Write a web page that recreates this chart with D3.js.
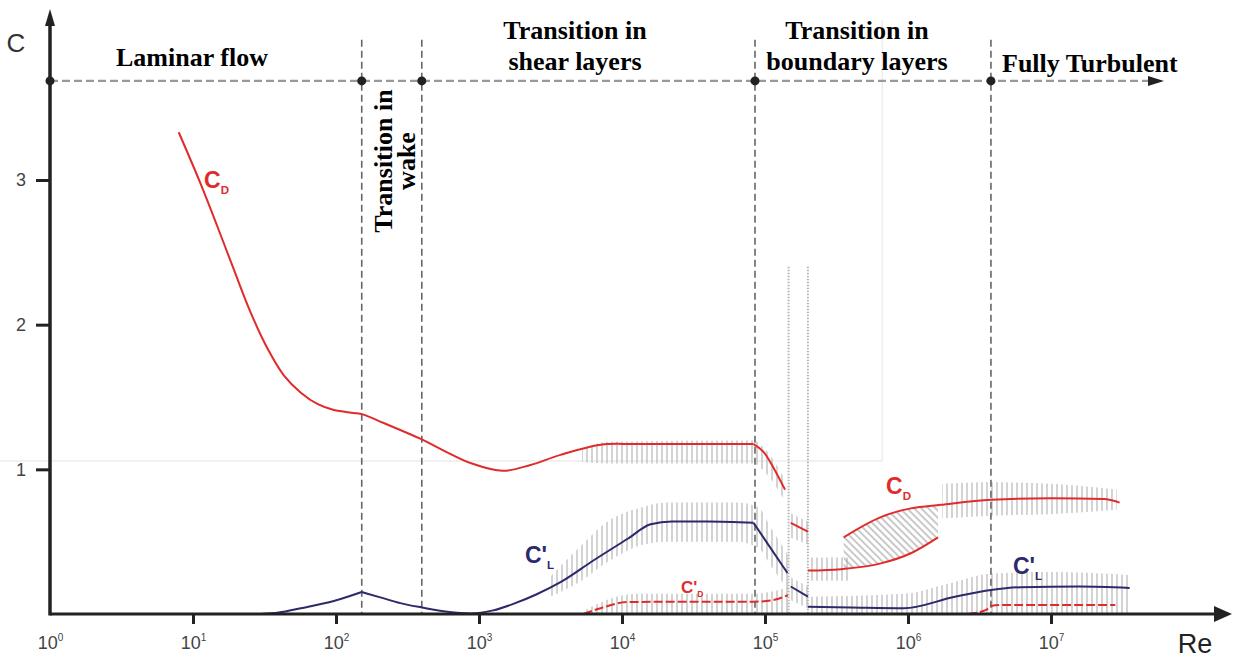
<!DOCTYPE html>
<html>
<head>
<meta charset="utf-8">
<script src="https://cdn.jsdelivr.net/npm/d3@7"></script>
<style>
  body { margin: 0; background: #fff; }
  svg { display: block; }
</style>
</head>
<body>
<svg id="chart" width="1233" height="658"></svg>
<script>
// Re is stored as log10(Re), coefficients as C
// mean drag coefficient C_D
var cdMain = [[0.90,3.33],[1.055,2.97],[1.174,2.67],[1.286,2.38],[1.405,2.08],[1.524,1.83],[1.635,1.65],
  [1.754,1.53],[1.873,1.45],[1.985,1.41],[2.124,1.39],[2.187,1.38],[2.334,1.32],[2.593,1.21],[2.753,1.13],
  [2.95,1.04],[3.166,0.99],[3.36,1.03],[3.57,1.10],[3.85,1.17],[4.1,1.175],[4.92,1.175]];
var cdDrop = [[4.92,1.175],[4.99,1.12],[5.06,1.01],[5.14,0.86]];
var cdCritical = [[5.18,0.63],[5.30,0.57]];
var cdLower = [[5.30,0.30],[5.53,0.31],[5.81,0.35],[6.02,0.42],[6.21,0.53]];
var cdUpper = [[5.55,0.53],[5.81,0.67],[6.02,0.73],[6.23,0.755],[6.58,0.79],[7.0,0.80],[7.37,0.795],[7.48,0.77]];

// fluctuating lift C'_L
var clRise = [[1.474,0],[1.60,0.01],[1.754,0.04],[1.985,0.09],[2.18,0.152]];
var clMid = [[2.18,0.152],[2.31,0.115],[2.45,0.075],[2.60,0.045],[2.78,0.015],[2.94,0.004],[3.10,0.025],
  [3.24,0.07],[3.40,0.135],[3.57,0.22],[3.80,0.37],[4.04,0.52],[4.20,0.62],[4.35,0.64],[4.6,0.64],[4.92,0.63]];
var clDrop = [[4.92,0.63],[5.157,0.283]];
var clCritical = [[5.18,0.19],[5.30,0.12]];
var clSuper = [[5.30,0.05],[5.6,0.045],[5.97,0.04],[6.32,0.117],[6.58,0.166],[6.79,0.185],[7.2,0.19],[7.55,0.18]];

// fluctuating drag C'_D
var cdpSub = [[3.73,0],[3.85,0.04],[4.04,0.083],[4.5,0.085],[4.92,0.085],[5.05,0.095],[5.16,0.13]];
var cdpSuper = [[6.42,0],[6.55,0.03],[6.58,0.055],[6.65,0.062],[7.45,0.062]];

// scatter bands [log10 Re, low, high]
var bandCd = [[3.72,1.05,1.14],[3.9,1.04,1.19],[4.92,1.04,1.20],[5.0,0.98,1.14],[5.14,0.78,0.93]];
var bandCl = [[3.50,0.12,0.26],[3.70,0.22,0.46],[3.90,0.36,0.64],[4.15,0.48,0.74],[4.30,0.50,0.77],
  [4.80,0.50,0.77],[4.95,0.46,0.74],[5.05,0.32,0.58],[5.18,0.14,0.38]];
var bandCdp = [[3.73,0,0.02],[3.9,0,0.10],[4.1,0,0.14],[4.92,0,0.14],[5.18,0,0.19]];
var bandCdCrit = [[5.17,0.53,0.70],[5.30,0.48,0.64]];
var bandClCrit = [[5.17,0.10,0.26],[5.30,0.04,0.19]];
var bandCdLow = [[5.30,0.23,0.39],[5.60,0.23,0.39]];
var bandCdSuper = [[6.24,0.66,0.90],[6.58,0.68,0.91],[7.0,0.69,0.90],[7.46,0.72,0.86]];
var bandClSuper = [[5.30,0,0.12],[5.97,0,0.14],[6.32,0,0.22],[6.58,0,0.28],[7.0,0,0.29],[7.55,0,0.27]];
var bistable = [[5.55,0.31,0.53],[5.81,0.35,0.67],[6.02,0.42,0.73],[6.21,0.53,0.75]];

// flow regime boundaries (log10 Re) and guide level
var regimeBounds = [2.18, 2.60, 4.93, 6.58];
var criticalGaps = [5.165, 5.30];
var guideLevel = 3.685;
var xTicks = [1, 10, 100, 1e3, 1e4, 1e5, 1e6, 1e7];
var yTicks = [1, 2, 3];

var red = "#e02b2b", navy = "#2c2a6a";

var svg = d3.select("#chart");

var x = d3.scaleLog().domain([1, 1e7]).range([50, 1051]);
var y = d3.scaleLinear().domain([0, 3]).range([614, 180]);

function px(d) { return x(Math.pow(10, d[0])); }

var line = d3.line().x(px).y(function(d) { return y(d[1]); }).curve(d3.curveMonotoneX);
var smoothLine = d3.line().x(px).y(function(d) { return y(d[1]); }).curve(d3.curveCatmullRom.alpha(0.5));
var band = d3.area().x(px)
  .y0(function(d) { return y(d[1]); })
  .y1(function(d) { return y(d[2]); })
  .curve(d3.curveMonotoneX);

// hatch patterns
var defs = svg.append("defs");
defs.append("pattern").attr("id", "vhatch")
    .attr("patternUnits", "userSpaceOnUse")
    .attr("width", 5).attr("height", 8)
  .append("line")
    .attr("x1", 2).attr("x2", 2).attr("y1", 0).attr("y2", 8)
    .attr("stroke", "#bcbcbc").attr("stroke-width", 1.3);
defs.append("pattern").attr("id", "dhatch")
    .attr("patternUnits", "userSpaceOnUse")
    .attr("width", 5).attr("height", 8)
    .attr("patternTransform", "rotate(-45)")
  .append("line")
    .attr("x1", 2).attr("x2", 2).attr("y1", 0).attr("y2", 8)
    .attr("stroke", "#a5a5a5").attr("stroke-width", 1.2);

// faint scan frame in the background
svg.append("path")
  .attr("d", "M0," + y(1.057) + "H" + x(Math.pow(10, 5.82)) + "V20")
  .attr("fill", "none").attr("stroke", "#ededed").attr("stroke-width", 1.5);

// scatter bands
[bandCd, bandCl, bandCdp, bandCdCrit, bandClCrit, bandCdLow, bandCdSuper, bandClSuper].forEach(function(b) {
  svg.append("path").attr("d", band(b)).attr("fill", "url(#vhatch)");
});
svg.append("path").attr("d", band(bistable)).attr("fill", "url(#dhatch)");

// critical gap markers
svg.selectAll(".gap")
  .data(criticalGaps)
  .enter().append("line")
    .attr("class", "gap")
    .attr("x1", function(d) { return x(Math.pow(10, d)); })
    .attr("x2", function(d) { return x(Math.pow(10, d)); })
    .attr("y1", y(2.40)).attr("y2", y(0))
    .attr("stroke", "#b5b5b5").attr("stroke-width", 2)
    .attr("stroke-dasharray", "1.5,1.5");

// regime guide line
svg.append("line")
  .attr("x1", x(1)).attr("x2", 1150)
  .attr("y1", y(guideLevel)).attr("y2", y(guideLevel))
  .attr("stroke", "#999").attr("stroke-width", 2.2)
  .attr("stroke-dasharray", "8,4");
svg.append("path")
  .attr("d", "M1148," + (y(guideLevel) - 5) + "L1164," + y(guideLevel) + "L1148," + (y(guideLevel) + 5) + "Z")
  .attr("fill", "#222");

// regime boundaries
svg.selectAll(".bound")
  .data(regimeBounds)
  .enter().append("line")
    .attr("class", "bound")
    .attr("x1", function(d) { return x(Math.pow(10, d)); })
    .attr("x2", function(d) { return x(Math.pow(10, d)); })
    .attr("y1", y(3.97)).attr("y2", y(0))
    .attr("stroke", "#666").attr("stroke-width", 1.6)
    .attr("stroke-dasharray", "7,4");

// curves
svg.append("path").attr("d", smoothLine(cdMain))
  .attr("fill", "none").attr("stroke", red).attr("stroke-width", 2);
[cdDrop, cdCritical, cdLower, cdUpper].forEach(function(c) {
  svg.append("path").attr("d", line(c))
    .attr("fill", "none").attr("stroke", red).attr("stroke-width", 2);
});
[clRise, clMid, clDrop, clCritical, clSuper].forEach(function(c) {
  svg.append("path").attr("d", line(c))
    .attr("fill", "none").attr("stroke", navy).attr("stroke-width", 2);
});
[cdpSub, cdpSuper].forEach(function(c) {
  svg.append("path").attr("d", line(c))
    .attr("fill", "none").attr("stroke", red).attr("stroke-width", 2)
    .attr("stroke-dasharray", "9,3");
});

// x axis
var xAxis = svg.append("g")
  .attr("transform", "translate(0," + y(0) + ")")
  .call(d3.axisBottom(x).tickValues(xTicks).tickSize(10).tickFormat(function() { return ""; }));
xAxis.select(".domain").remove();
xAxis.selectAll(".tick line").attr("stroke", "#222").attr("stroke-width", 3)
  .filter(function(d) { return d === 1; }).remove();
xAxis.selectAll(".tick text")
  .attr("y", 22).attr("dy", "0.71em")
  .attr("font-family", "Liberation Sans, Arial, sans-serif")
  .attr("font-size", 18).attr("fill", "#444")
  .each(function(d) {
    var t = d3.select(this).text("10");
    t.append("tspan").attr("dy", -8).attr("font-size", 10).text(Math.round(Math.log10(d)));
  });

svg.append("line")
  .attr("x1", x(1)).attr("x2", 1218)
  .attr("y1", y(0)).attr("y2", y(0))
  .attr("stroke", "#222").attr("stroke-width", 3);
svg.append("path")
  .attr("d", "M1214," + (y(0) - 8) + "L1232," + y(0) + "L1214," + (y(0) + 8) + "Z")
  .attr("fill", "#222");

// y axis
var yAxis = svg.append("g")
  .attr("transform", "translate(" + x(1) + ",0)")
  .call(d3.axisLeft(y).tickValues(yTicks).tickSize(14).tickPadding(10).tickFormat(d3.format("d")));
yAxis.select(".domain").remove();
yAxis.selectAll(".tick line").attr("stroke", "#222").attr("stroke-width", 3);
yAxis.selectAll(".tick text")
  .attr("font-family", "Liberation Sans, Arial, sans-serif")
  .attr("font-size", 18).attr("fill", "#444");

svg.append("line")
  .attr("x1", x(1)).attr("x2", x(1))
  .attr("y1", y(0) + 1.5).attr("y2", 22)
  .attr("stroke", "#222").attr("stroke-width", 3.5);
svg.append("path")
  .attr("d", "M" + (x(1) - 5) + ",26L" + x(1) + ",9L" + (x(1) + 5) + ",26Z")
  .attr("fill", "#222");

svg.append("text")
  .attr("x", 16).attr("y", 52)
  .attr("text-anchor", "middle")
  .attr("font-family", "Liberation Sans, Arial, sans-serif")
  .attr("font-size", 26).attr("fill", "#333")
  .text("C");
svg.append("text")
  .attr("x", 1195).attr("y", 653)
  .attr("text-anchor", "middle")
  .attr("font-family", "Liberation Sans, Arial, sans-serif")
  .attr("font-size", 27).attr("fill", "#222")
  .text("Re");

// junction dots
svg.selectAll(".dot")
  .data([0].concat(regimeBounds))
  .enter().append("circle")
    .attr("class", "dot")
    .attr("cx", function(d) { return x(Math.pow(10, d)); })
    .attr("cy", y(guideLevel))
    .attr("r", 4.5)
    .attr("fill", "#222");

// regime labels
var serif = "Liberation Serif, Times New Roman, serif";
function header(lines, cx, y0, anchor) {
  var t = svg.append("text")
    .attr("font-family", serif).attr("font-weight", "bold")
    .attr("font-size", 26).attr("fill", "#000")
    .attr("text-anchor", anchor || "middle");
  lines.forEach(function(s, i) {
    t.append("tspan").attr("x", cx).attr("y", y0 + i * 31).text(s);
  });
}
header(["Laminar flow"], 192, 66);
header(["Transition in", "shear layers"], 575, 39);
header(["Transition in", "boundary layers"], 857, 39);
header(["Fully Turbulent"], 1002, 72, "start");

var wake = svg.append("text")
  .attr("transform", "translate(392,161) rotate(-90)")
  .attr("font-family", serif).attr("font-weight", "bold")
  .attr("font-size", 26).attr("fill", "#000")
  .attr("text-anchor", "middle");
wake.append("tspan").attr("x", 0).attr("y", 0).text("Transition in");
wake.append("tspan").attr("x", 0).attr("y", 23).text("wake");

// curve labels
function coefLabel(cx, cy, main, sub, color, size) {
  var t = svg.append("text")
    .attr("x", cx).attr("y", cy)
    .attr("font-family", "Liberation Sans, Arial, sans-serif")
    .attr("font-weight", "bold")
    .attr("font-size", size).attr("fill", color);
  t.append("tspan").text(main);
  t.append("tspan").attr("dy", size * 0.25).attr("font-size", size * 0.5).text(sub);
}
coefLabel(204, 188, "C", "D", red, 23);
coefLabel(886, 494, "C", "D", red, 23);
coefLabel(525, 563, "C'", "L", navy, 23);
coefLabel(1013, 574, "C'", "L", navy, 23);
coefLabel(681, 593, "C'", "D", red, 17);
</script>
</body>
</html>
